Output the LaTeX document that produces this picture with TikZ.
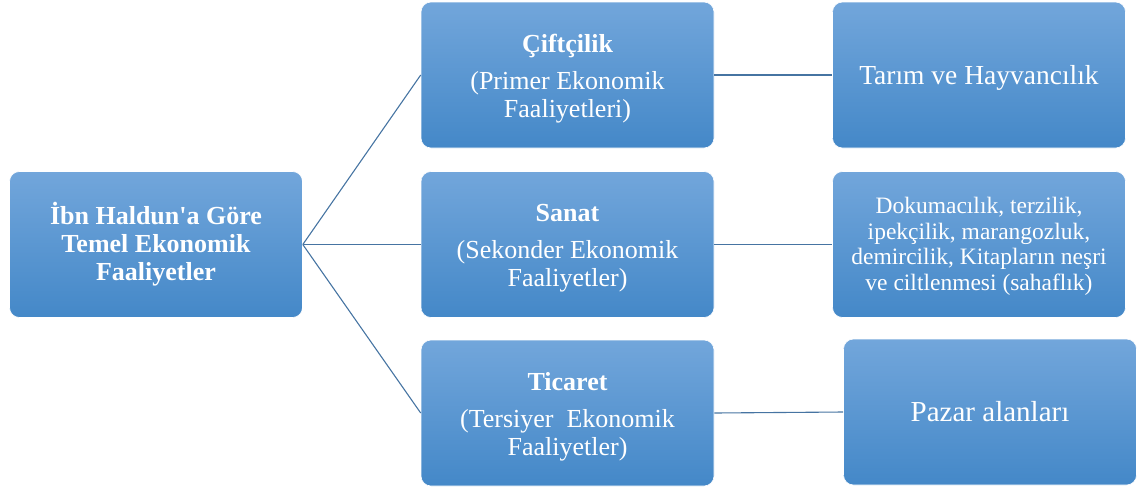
\documentclass[tikz,border=0pt]{standalone}
\usepackage{fontspec}
\setmainfont{Liberation Serif}
\definecolor{boxtop}{RGB}{114,166,219}
\definecolor{boxmid}{RGB}{90,156,218}
\definecolor{boxbot}{RGB}{68,136,200}
\definecolor{linkblue}{RGB}{70,116,162}
\tikzset{
  stage/.style={rounded corners=10pt, top color=boxtop, middle color=boxmid,
    bottom color=boxbot, draw=white, line width=0.6pt, minimum width=293pt,
    minimum height=146pt, inner sep=0pt},
  caption/.style={text=white, align=center, inner sep=0pt},
  link/.style={draw=linkblue, line width=1.1pt}
}

\begin{document}
\begin{tikzpicture}[x=1pt, y=-1pt]
			%%%%% START %%%%%
			\useasboundingbox (0, 0) rectangle (1140, 488);
			
			% root
			\node[stage] (root) at (156, 244.5) {};
			\node[caption, font=\fontsize{26}{28}\selectfont\bfseries] (rootText) at (root)
			  {İbn Haldun\textquotesingle a Göre\\Temel Ekonomik\\Faaliyetler};
			
			% sectors
			\node[stage] (ciftci) at (567.5, 75) {};
			\node[stage] (sanat) at (567.5, 244.5) {};
			\node[stage] (ticaret) at (567.5, 413) {};
			\node[caption, font=\fontsize{26}{28}\selectfont] (ciftciText) at ([yshift=-4pt]ciftci)
			  {\textbf{Çiftçilik}\\[9pt](Primer Ekonomik\\Faaliyetleri)};
			\node[caption, font=\fontsize{26}{28}\selectfont] (sanatText) at ([yshift=-4pt]sanat)
			  {\textbf{Sanat}\\[9pt](Sekonder Ekonomik\\Faaliyetler)};
			\node[caption, font=\fontsize{26}{28}\selectfont] (ticaretText) at ([yshift=-4pt]ticaret)
			  {\textbf{Ticaret}\\[9pt](Tersiyer\ \ Ekonomik\\Faaliyetler)};
			
			% examples
			\node[stage] (tarim) at (979, 75) {};
			\node[stage] (zanaat) at (979, 244.5) {};
			\node[stage] (pazar) at (990, 412) {};
			\node[caption, font=\fontsize{27.5}{30}\selectfont] (tarimText) at ([yshift=-3pt]tarim)
			  {Tarım ve Hayvancılık};
			\node[caption, font=\fontsize{23.5}{25.5}\selectfont] (zanaatText) at ([yshift=-2pt]zanaat)
			  {Dokumacılık, terzilik,\\ipekçilik, marangozluk,\\demircilik, Kitapların neşri\\ve ciltlenmesi (sahaflık)};
			\node[caption, font=\fontsize{29}{31}\selectfont] (pazarText) at (pazar)
			  {Pazar alanları};
			
			\draw[link] (root.east) -- (ciftci.west);
			\draw[link] (root.east) -- (sanat.west);
			\draw[link] (root.east) -- (ticaret.west);
			
			\draw[link] (ciftci.east) -- (tarim.west);
			\draw[link] (sanat.east) -- (zanaat.west);
			\draw[link] (ticaret.east) -- (pazar.west);
			%%%%% END %%%%%
\end{tikzpicture}
\end{document}
